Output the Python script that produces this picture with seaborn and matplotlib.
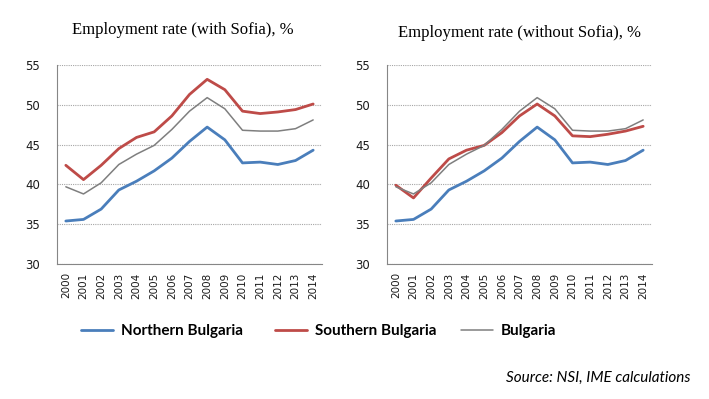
import numpy as np
import pandas as pd
import matplotlib
matplotlib.use("Agg")
import matplotlib.pyplot as plt
import seaborn as sns
from matplotlib.ticker import MultipleLocator, FixedLocator

years = list(range(2000, 2015))
northern = [35.4, 35.6, 36.9, 39.3, 40.4, 41.7, 43.3, 45.4, 47.2, 45.6, 42.7, 42.8, 42.5, 43.0, 44.3]
southern_with = [42.4, 40.6, 42.4, 44.5, 45.9, 46.6, 48.6, 51.3, 53.2, 51.9, 49.2, 48.9, 49.1, 49.4, 50.1]
southern_without = [39.9, 38.3, 40.8, 43.2, 44.3, 44.9, 46.5, 48.6, 50.1, 48.6, 46.1, 46.0, 46.3, 46.7, 47.3]
bulgaria = [39.7, 38.8, 40.2, 42.5, 43.8, 44.9, 46.9, 49.2, 50.9, 49.5, 46.8, 46.7, 46.7, 47.0, 48.1]

titles = ["Employment rate (with Sofia), %", "Employment rate (without Sofia), %"]
series_names = ["Northern Bulgaria", "Southern Bulgaria", "Bulgaria"]
colors = {"Northern Bulgaria": "#4A7EBB", "Southern Bulgaria": "#BE4B48", "Bulgaria": "#7F7F7F"}
widths = {"Northern Bulgaria": 2.0, "Southern Bulgaria": 2.0, "Bulgaria": 1.1}

def make_df(southern):
    rows = []
    for name, vals in zip(series_names, [northern, southern, bulgaria]):
        for y, v in zip(years, vals):
            rows.append({"year": y, "value": v, "series": name})
    return pd.DataFrame(rows)

dfs = [make_df(southern_with), make_df(southern_without)]

sns.set_theme(style="white")
plt.rcParams["font.family"] = ["DejaVu Sans"]

fig = plt.figure(figsize=(7.09, 3.99), dpi=100)
W, H = 709, 399
positions = [57, 387]
axes = []
for i, (x0, df, title) in enumerate(zip(positions, dfs, titles)):
    ax = fig.add_axes([x0 / W, (H - 264) / H, 265 / W, 199 / H])
    for name in series_names:
        sub = df[df["series"] == name]
        sns.lineplot(data=sub, x="year", y="value", ax=ax, color=colors[name],
                     linewidth=widths[name], label=name, legend=False)
    ax.set_xlim(1999.5, 2014.5)
    ax.set_ylim(30, 55)
    ax.yaxis.set_major_locator(MultipleLocator(5))
    ax.set_xticks(years)
    ax.set_xticklabels([str(y) for y in years], rotation=90, fontsize=7.5, color="#1a1a1a")
    ax.xaxis.set_minor_locator(FixedLocator(np.arange(1999.5, 2015, 1)))
    ax.tick_params(axis="x", which="major", length=0, pad=6)
    ax.tick_params(axis="x", which="minor", length=4, color="#868686", width=0.8, direction="out")
    ax.tick_params(axis="y", which="major", length=4, color="#868686", width=0.8, direction="out",
                   labelsize=8.5, labelcolor="#1a1a1a", pad=8)
    ax.grid(axis="y", linestyle=(0, (1, 1)), color="#A6A6A6", linewidth=0.8)
    ax.set_axisbelow(True)
    for s in ["top", "right"]:
        ax.spines[s].set_visible(False)
    for s in ["left", "bottom"]:
        ax.spines[s].set_color("#868686")
        ax.spines[s].set_linewidth(0.8)
    ax.set_xlabel("")
    ax.set_ylabel("")
    axes.append(ax)

fig.text(183 / W, 1 - 30 / H, titles[0], ha="center", va="center",
         family="Liberation Serif", fontsize=12, color="#000000")
fig.text(520 / W, 1 - 33 / H, titles[1], ha="center", va="center",
         family="Liberation Serif", fontsize=12, color="#000000")

handles, labels = axes[0].get_legend_handles_labels()
legend_x = [81, 275, 461]
for h, lab, lx in zip(handles, labels, legend_x):
    fig.legend([h], [lab], loc="center left", bbox_to_anchor=(lx / W, 1 - 331 / H),
               frameon=False, borderpad=0, borderaxespad=0, handlelength=2.1,
               handletextpad=0.5, labelcolor="#000000",
               prop={"family": "Lato", "weight": "bold", "size": 11})

fig.text(690 / W, 1 - 378 / H, "Source: NSI, IME calculations", ha="right", va="center",
         family="Lato", style="italic", fontsize=11, color="#000000")

fig.savefig("out.png", dpi=100)
